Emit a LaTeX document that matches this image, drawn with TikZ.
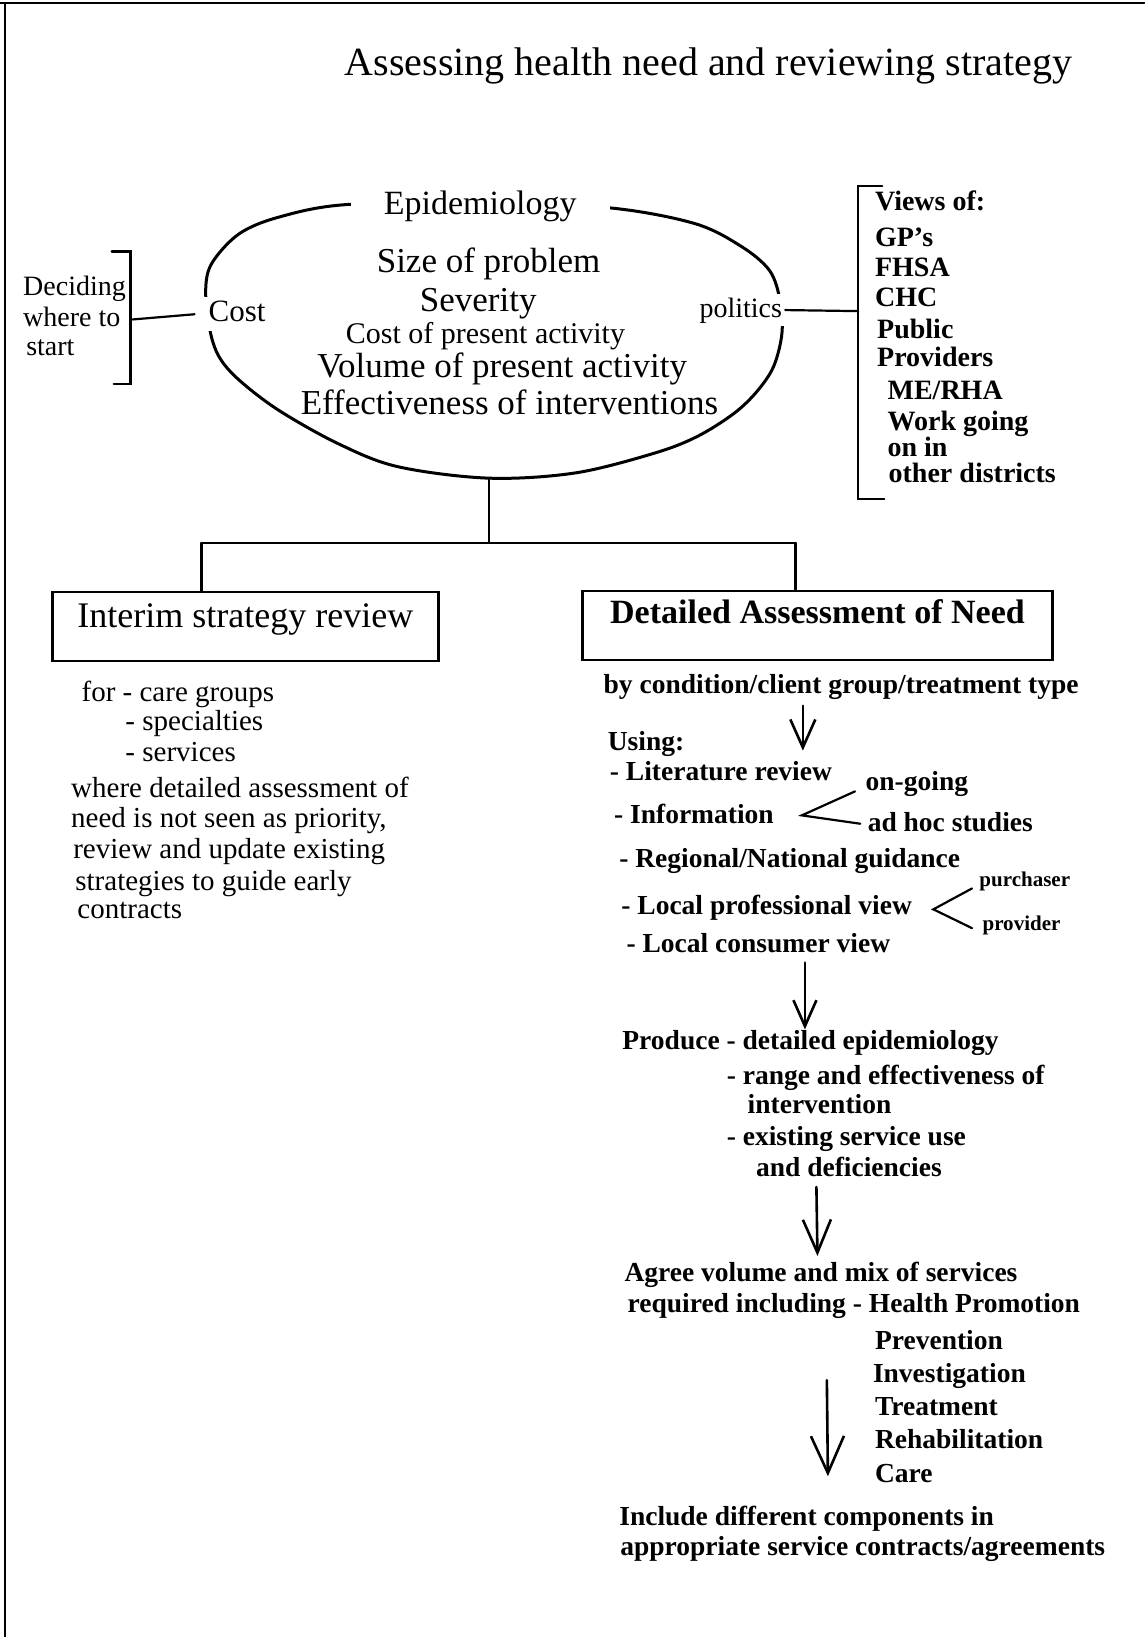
\documentclass[tikz,border=0pt]{standalone}
\usepackage{fontspec}
\setmainfont{Liberation Serif}
\usetikzlibrary{arrows.meta,calc}
\newcommand\fsz[1]{\fontsize{#1}{#1}\selectfont}

\begin{document}
\begin{tikzpicture}[x=1.0438pt,y=-1.0438pt,
  line cap=round,
  sz/.style={font=\fsz{#1},text height={0.7*#1},text depth={0.2*#1}},
  bsz/.style={font=\fsz{#1}\bfseries,text height={0.7*#1},text depth={0.2*#1}},
  lbl/.style={anchor=west,inner sep=0pt},
  ctr/.style={inner sep=0pt},
  conn/.style={line width=2.2pt},
  brk/.style={line width=2.4pt},
  flow/.style={line width=2.6pt},
  boxed/.style={draw,line width=2.6pt,inner sep=3pt}
]
\useasboundingbox (0,0) rectangle (1096,1568);

% page frame
\draw[line width=2.4pt] (0,3) -- (1096,3);
\draw[line width=1.8pt] (5,3) -- (5,1568);

% title
\node[lbl,sz=40] (title) at (330,63) {Assessing health need and reviewing strategy};

% the egg-shaped outline
\draw[line width=3pt] plot[smooth cycle,tension=0.55] coordinates {
  (460,194) (583,199) (665,214) (710,236) (737,259) (747,287) (749,319)
  (741,351) (725,375) (703,396) (668,418) (627,434) (551,453) (468,458)
  (381,447) (324,425) (267,393) (229,364) (210,342) (201,316) (197,278)
  (203,252) (229,224) (267,208) (331,196)};
\coordinate (eggbot) at (468,458);

\node[ctr,sz=34,fill=white,inner xsep=33pt,inner ysep=4pt] (epi) at (460,197) {Epidemiology};
\node[ctr,sz=35] (size) at (468,253) {Size of problem};
\node[ctr,sz=35] (sev) at (458,290) {Severity};
\node[ctr,sz=30] (costpa) at (465,322) {Cost of present activity};
\node[ctr,sz=35] (vol) at (481,353) {Volume of present activity};
\node[ctr,sz=35] (eff) at (488,389) {Effectiveness of interventions};
\node[lbl,sz=31,fill=white,inner xsep=6pt,inner ysep=3pt] (cost) at (194,301) {Cost};
\node[lbl,sz=28,fill=white,inner xsep=3pt,inner ysep=3pt] (pol) at (667,297) {politics};

% deciding where to start
\node[lbl,sz=28] (dec1) at (22,276) {Deciding};
\node[lbl,sz=28] (dec2) at (22,306) {where to};
\node[lbl,sz=28] (dec3) at (25,334) {start};
\draw[brk] (107,241) -- (125,241) -- (125,368) -- (109,368);
\coordinate (decmid) at (127,306);
\draw[conn] (decmid) -- ([xshift=-8pt]cost.west);

% views of
\draw[brk] (845,178) -- (822,178) -- (822,478) -- (847,478);
\coordinate (viewmid) at (822,298);
\draw[conn] (pol.east) -- (viewmid);
\node[lbl,bsz=28] (v0) at (838,195) {Views of:};
\node[lbl,bsz=28] (v1) at (838,229) {GP's};
\node[lbl,bsz=28] (v2) at (838,258) {FHSA};
\node[lbl,bsz=28] (v3) at (838,287) {CHC};
\node[lbl,bsz=28] (v4) at (840,318) {Public};
\node[lbl,bsz=28] (v5) at (840,344) {Providers};
\node[lbl,bsz=28] (v6) at (850,376) {ME/RHA};
\node[lbl,bsz=28] (v7) at (850,406) {Work going};
\node[lbl,bsz=28] (v8) at (850,431) {on in};
\node[lbl,bsz=28] (v9) at (851,455) {other districts};

% the two branches
\node[boxed,sz=36,text depth=24pt,minimum width=386pt,minimum height=69pt] (interim) at (235,600) {Interim strategy review};
\node[boxed,bsz=34,text depth=27.6pt,minimum width=470pt,minimum height=69pt] (detail) at (783,599) {Detailed Assessment of Need};
\coordinate (split) at (468,520);
\coordinate (brL) at (193,520);
\coordinate (brR) at (762,520);
\draw[conn] (eggbot) -- (split);
\draw[conn] (brL) -- (brR);
\draw[conn] (brL) -- (brL |- interim.north);
\draw[conn] (brR) -- (brR |- detail.north);

% interim strategy review notes
\node[lbl,sz=29] (i1) at (78,665) {for - care groups};
\node[lbl,sz=29] (i2) at (120,693) {- specialties};
\node[lbl,sz=29] (i3) at (120,722) {- services};
\node[lbl,sz=29] (i4) at (68,757) {where detailed assessment of};
\node[lbl,sz=29] (i5) at (68,786) {need is not seen as priority,};
\node[lbl,sz=29] (i6) at (70,815) {review and update existing};
\node[lbl,sz=29] (i7) at (72,846) {strategies to guide early};
\node[lbl,sz=29] (i8) at (74,873) {contracts};

% detailed assessment steps
\node[lbl,bsz=27.5] (by) at (578,658) {by condition/client group/treatment type};
\node[lbl,bsz=27.5] (using) at (582,712) {Using:};
\node[lbl,bsz=27.5] (lit) at (584,741) {- Literature review};
\node[lbl,bsz=27.5] (ongo) at (829,751) {on-going};
\node[lbl,bsz=27.5] (info) at (588,782) {- Information};
\node[lbl,bsz=27.5] (adhoc) at (831,790) {ad hoc studies};
\node[lbl,bsz=27.5] (reg) at (593,824) {- Regional/National guidance};
\node[lbl,bsz=21] (purch) at (938,844) {purchaser};
\node[lbl,bsz=27.5] (prof) at (595,869) {- Local professional view};
\node[lbl,bsz=21] (prov) at (941,886) {provider};
\node[lbl,bsz=27.5] (cons) at (600,906) {- Local consumer view};

\coordinate (infoapex) at (768,781);
\draw[conn] ($(ongo.west)+(-10,7)$) -- (infoapex) -- ($(adhoc.west)+(-7,-1)$);
\coordinate (profapex) at (894,871);
\draw[conn] ($(purch.west)+(-7,7)$) -- (profapex) -- ($(prov.west)+(-10,3)$);

\node[lbl,bsz=27.5] (prod) at (596,999) {Produce - detailed epidemiology};
\node[lbl,bsz=27.5] (p2) at (696,1032) {- range and effectiveness of};
\node[lbl,bsz=27.5] (p3) at (716,1060) {intervention};
\node[lbl,bsz=27.5] (p4) at (696,1091) {- existing service use};
\node[lbl,bsz=27.5] (p5) at (724,1120) {and deficiencies};

\node[lbl,bsz=27.5] (agree) at (598,1221) {Agree volume and mix of services};
\node[lbl,bsz=27.5] (req) at (601,1251) {required including - Health Promotion};
\node[lbl,bsz=27.5] (s1) at (838,1286) {Prevention};
\node[lbl,bsz=27.5] (s2) at (836,1318) {Investigation};
\node[lbl,bsz=27.5] (s3) at (838,1349) {Treatment};
\node[lbl,bsz=27.5] (s4) at (838,1381) {Rehabilitation};
\node[lbl,bsz=27.5] (s5) at (838,1413) {Care};

\node[lbl,bsz=27.5] (inc1) at (593,1455) {Include different components in};
\node[lbl,bsz=27.5] (inc2) at (594,1483) {appropriate service contracts/agreements};

% flow arrows
\coordinate (a1s) at (769,676);  \coordinate (a1e) at (769,719);
\coordinate (a2s) at (771,922);  \coordinate (a2e) at (771,986);
\coordinate (a3s) at (782,1137); \coordinate (a3e) at (783,1203);
\coordinate (a4s) at (792,1322); \coordinate (a4e) at (793,1414);
\draw[flow,-{Straight Barb[length=28pt,width=25pt]}] (a1s) -- (a1e);
\draw[flow,-{Straight Barb[length=26pt,width=23pt]}] (a2s) -- (a2e);
\draw[flow,-{Straight Barb[length=33pt,width=28pt]}] (a3s) -- (a3e);
\draw[flow,-{Straight Barb[length=37pt,width=33pt]}] (a4s) -- (a4e);
\end{tikzpicture}
\end{document}
